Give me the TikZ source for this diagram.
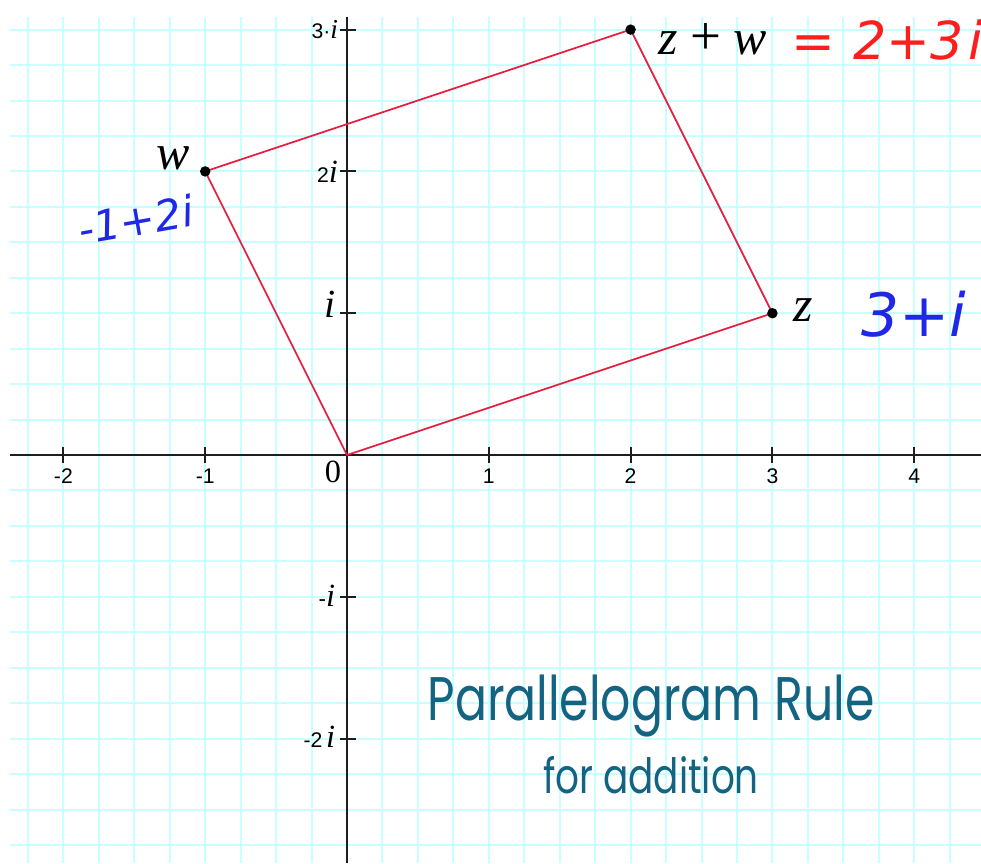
\documentclass[tikz,border=0pt]{standalone}
\usepackage{fontspec}
\setmainfont{Liberation Serif}
\setsansfont{Liberation Sans}
\newfontfamily\handfont{DejaVu Sans}
\newfontfamily\decofont{Poppins}
\definecolor{gridcyan}{RGB}{200,255,255}
\definecolor{axisgray}{RGB}{30,30,30}
\definecolor{sidered}{RGB}{232,30,64}
\definecolor{handblue}{RGB}{30,40,230}
\definecolor{handred}{RGB}{255,30,30}
\definecolor{decoteal}{RGB}{18,100,130}
\tikzset{
  gridline/.style={draw=gridcyan, line width=0.8pt},
  axisline/.style={draw=axisgray, line width=0.8pt},
  side/.style={draw=sidered, line width=0.7pt, line join=round},
  ticklabel/.style={font=\sffamily\fontsize{8.5}{10}\selectfont, inner sep=0pt},
  ylabel/.style={anchor=east, inner sep=0pt, font=\fontsize{9}{11}\selectfont},
  ptlabel/.style={font=\itshape\fontsize{20}{24}\selectfont, inner sep=0pt},
  hand/.style={font=\handfont\itshape, inner sep=0pt},
  decotitle/.style={anchor=base, text=decoteal, inner sep=0pt},
}
\begin{document}
\begin{tikzpicture}[x=2cm,y=2cm]
\useasboundingbox (-2.447,-2.877) rectangle (4.471,3.209);
\fill[white] (-2.447,-2.877) rectangle (4.471,3.209);
% grid
\foreach \i in {-9,...,17} \draw[gridline] (\i/4,-2.877) -- (\i/4,3.091);
\foreach \j in {-11,...,12} \draw[gridline] (-2.378,\j/4) -- (4.471,\j/4);
% axes
\coordinate (xl) at (-2.378,0);
\coordinate (xr) at (4.471,0);
\coordinate (yt) at (0,3.091);
\coordinate (yb) at (0,-2.877);
\draw[axisline] (xl) -- (xr);
\draw[axisline] (yt) -- (yb);
\foreach \x in {-2,-1,1,2,3,4} {
  \draw[axisline] (\x,-0.056) -- (\x,0.056);
  \node[ticklabel] (tx\x) at (\x,-0.148) {\x};
}
\foreach \y in {-2,-1,1,2,3} \draw[axisline] (-0.05,\y) -- (0.065,\y);
\node[ylabel] (y3) at (-0.06,3) {{\sffamily\fontsize{8.5}{10}\selectfont 3·}\textit{\fontsize{11}{13}\selectfont i}};
\node[ylabel] (y2) at (-0.06,2) {{\sffamily\fontsize{8.5}{10}\selectfont 2}\textit{\fontsize{13}{15}\selectfont i}};
\node[ylabel] (y1) at (-0.08,1.06) {\textit{\fontsize{16}{18}\selectfont i}};
\node[ylabel] (ym1) at (-0.08,-0.99) {{\sffamily\fontsize{9}{10}\selectfont -}\textit{\fontsize{13}{15}\selectfont i}};
\node[ylabel] (ym2) at (-0.08,-1.99) {{\sffamily\fontsize{8.5}{10}\selectfont -2}\,\textit{\fontsize{13}{15}\selectfont i}};
\node[font=\fontsize{13}{15}\selectfont, inner sep=0pt] (l0) at (-0.099,-0.12) {0};
% parallelogram
\coordinate (O) at (0,0);
\coordinate (Z) at (3,1);
\coordinate (S) at (2,3);
\coordinate (W) at (-1,2);
\draw[side] (O) -- (Z) -- (S) -- (W) -- cycle;
\foreach \p in {Z,S,W} \fill[black] (\p) circle (2.1pt);
% point labels
\node[ptlabel] (lz) at (3.216,1.02) {z};
\node[ptlabel] (lzw) at (2.581,2.93) {z {\upshape\fontsize{22}{24}\selectfont +} w};
\node[ptlabel] (lw) at (-1.227,2.09) {w};
% handwritten values
\node[hand, text=handblue, rotate=10, font=\handfont\itshape\fontsize{17}{19}\selectfont] (vw) at (-1.49,1.66) {-1+2i};
\node[hand, text=handblue, font=\handfont\itshape\fontsize{24}{28}\selectfont] (vz) at (4.0,0.99) {3+i};
\node[hand, text=handred, font=\handfont\itshape\fontsize{21}{24}\selectfont] (vs) at (3.81,2.93) {=\hspace{0.35em}2+3\hspace{0.1em}i};
% title
\node[decotitle, font=\decofont\fontsize{19}{22}\selectfont] (t1) at (2.144,-1.869) {\scalebox{1}[1.3]{Parallelogram Rule}};
\node[decotitle, font=\decofont\fontsize{15}{18}\selectfont] (t2) at (2.144,-2.384) {\scalebox{1}[1.3]{for addition}};
\end{tikzpicture}
\end{document}
